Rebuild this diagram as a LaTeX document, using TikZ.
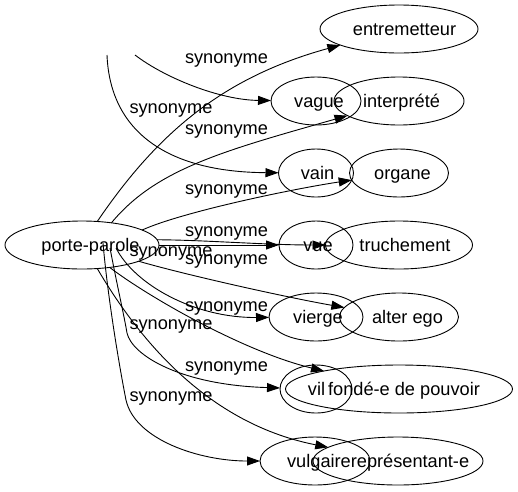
\documentclass[tikz,border=0pt]{standalone}
\usepackage{fontspec}
\setmainfont{Liberation Sans}
\usetikzlibrary{arrows.meta,shapes.geometric}
\newcommand{\nodetext}[2]{\makebox[0pt]{\hspace*{#1pt}#2}}
\begin{document}
\begin{tikzpicture}[x=1pt,y=-1pt,
  every node/.style={font=\fontsize{18.2}{20}\selectfont},
  gnode/.style={draw, ellipse, line width=0.9pt, inner sep=0pt, outer sep=0pt,
    minimum height=48pt, text height=13pt, text depth=1pt},
  lab/.style={anchor=base, inner sep=0pt},
  syn/.style={line width=0.9pt, -{Triangle[length=13pt,width=9pt]}}]
\useasboundingbox (0,0) rectangle (518,491);
% nodes
\node[gnode, minimum width=154pt] (pp)  at (82,245)  {\nodetext{17}{porte-parole}};
\node[gnode, minimum width=158pt] (ent) at (399,29)  {\nodetext{11}{entremetteur}};
\node[gnode, minimum width=90pt]  (vag) at (316,101) {\nodetext{6}{vague}};
\node[gnode, minimum width=130pt] (int) at (399,101) {\nodetext{5}{interprété}};
\node[gnode, minimum width=75pt]  (vai) at (316,173) {\nodetext{3}{vain}};
\node[gnode, minimum width=99pt]  (org) at (399,173) {\nodetext{7}{organe}};
\node[gnode, minimum width=74pt]  (vue) at (316,245) {\nodetext{4}{vue}};
\node[gnode, minimum width=147pt] (tru) at (399,245) {\nodetext{12}{truchement}};
\node[gnode, minimum width=94pt]  (vie) at (316,317) {\nodetext{4}{vierge}};
\node[gnode, minimum width=119pt] (alt) at (399,317) {\nodetext{17}{alter ego}};
\node[gnode, minimum width=72pt]  (vil) at (316,389) {\nodetext{1}{vil}};
\node[gnode, minimum width=227pt] (fon) at (399,389) {\nodetext{10}{fondé-e de pouvoir}};
\node[gnode, minimum width=110pt] (vul) at (315,461) {\nodetext{8}{vulgaire}};
\node[gnode, minimum width=170pt] (rep) at (398,461) {\nodetext{24}{représentant-e}};
% free ends
\coordinate (tv) at (135,55);
\coordinate (tn) at (107,55);
\coordinate (s1) at (103,243);
\coordinate (s2) at (110,248);
\coordinate (s3) at (116,248);
% edges
\draw[syn] (pp.57) .. controls (158,132) and (224,77) .. (ent);
\draw[syn] (tv) .. controls (165,78) and (220,100) .. (vag);
\draw[syn] (pp.37) .. controls (156,169) and (223,151) .. (int);
\draw[syn] (tn) .. controls (110,130) and (165,172) .. (vai);
\draw[syn] (pp.14) .. controls (182,212) and (292,189) .. (org);
\draw[syn] (pp) -- (vue);
\draw[syn] (pp.4) .. controls (205,240) and (265,245) .. (tru);
\draw[syn] (s3) .. controls (135,285) and (195,318) .. (vie);
\draw[syn] (pp.-16) .. controls (190,276) and (290,298) .. (alt);
\draw[syn] (s2) .. controls (117,285) and (124,315) .. (127,333) .. controls (132,355) and (180,385) .. (vil);
\draw[syn] (pp.-39) .. controls (150,298) and (245,352) .. (fon);
\draw[syn] (s1) .. controls (108,300) and (120,370) .. (126,400) .. controls (135,440) and (200,461) .. (vul);
\draw[syn] (pp.-57) .. controls (145,350) and (215,425) .. (rep);
% labels
\node[lab] (l1)  at (226.5,63)  {synonyme};
\node[lab] (l2)  at (171,113)   {synonyme};
\node[lab] (l3)  at (226.5,134) {synonyme};
\node[lab] (l4)  at (226.5,194) {synonyme};
\node[lab] (l5)  at (226.5,236) {synonyme};
\node[lab] (l6)  at (171,256)   {synonyme};
\node[lab] (l7)  at (226.5,264) {synonyme};
\node[lab] (l8)  at (226.5,311) {synonyme};
\node[lab] (l9)  at (171,329)   {synonyme};
\node[lab] (l10) at (226.5,371) {synonyme};
\node[lab] (l11) at (171,401)   {synonyme};
\end{tikzpicture}
\end{document}
